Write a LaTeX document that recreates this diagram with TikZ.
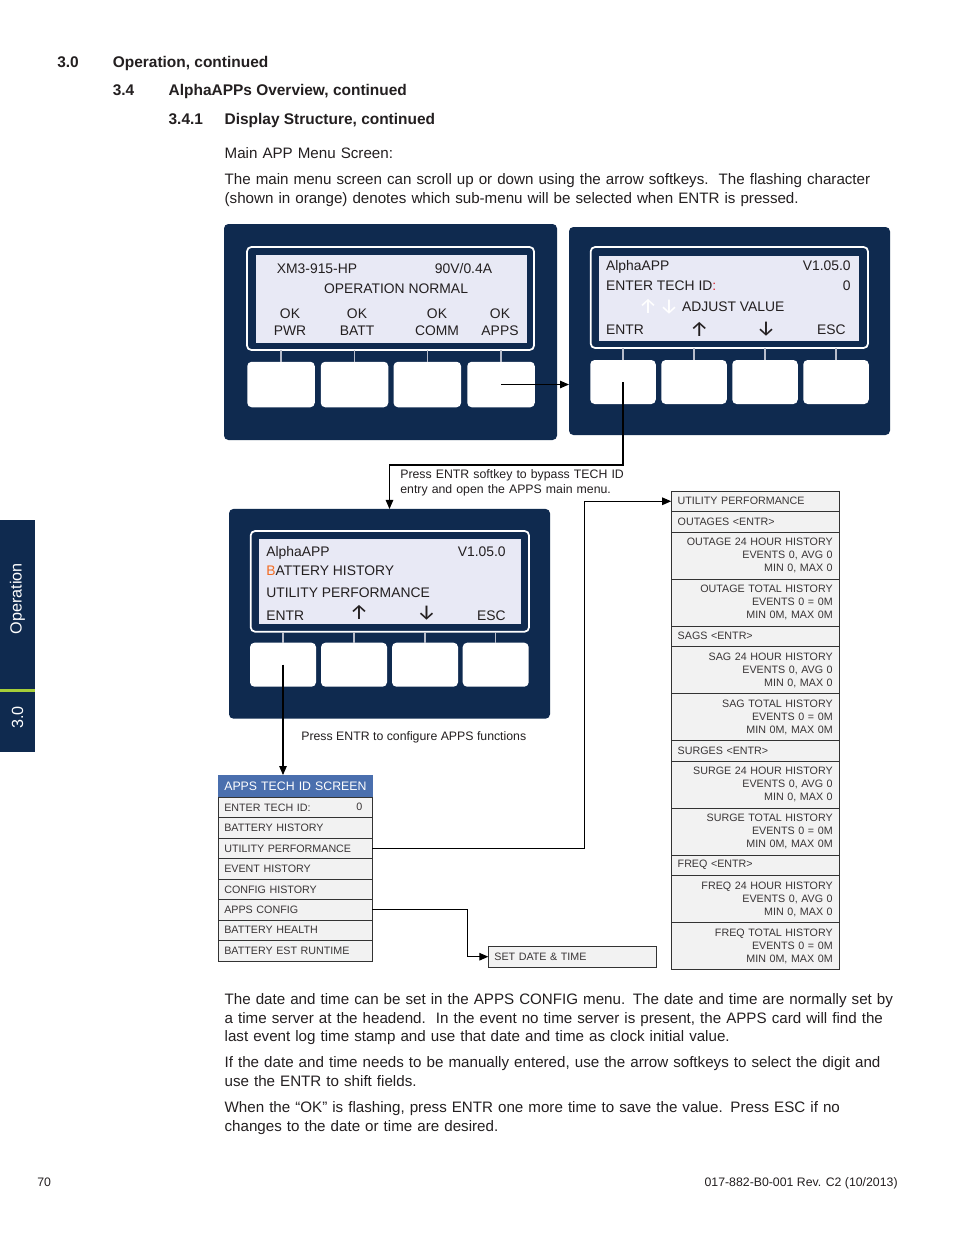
\documentclass[tikz,border=0pt]{standalone}
\usepackage{fontspec}
\setmainfont{Liberation Sans}
\newfontfamily\arrowfont{Fira Sans}
\usetikzlibrary{positioning,arrows.meta}

\definecolor{navy}{HTML}{0F2A4F}
\definecolor{lcd}{HTML}{E8E9F5}
\definecolor{tickc}{HTML}{B8BDCB}
\definecolor{hdrblue}{HTML}{4A6FAE}
\definecolor{rowfill}{HTML}{F2F2F2}
\definecolor{rowline}{HTML}{333333}
\definecolor{ink}{HTML}{231F20}
\definecolor{flash}{HTML}{F26B21}
\definecolor{idred}{HTML}{D9232E}
\definecolor{tabgreen}{HTML}{A6CE39}

\newlength\pxl
\setlength\pxl{0.02cm}

\tikzset{
  panel/.style={fill=navy,rounded corners=2.5pt,inner sep=0pt,outer sep=0pt},
  lcdframe/.style={draw=white,line width=1pt,rounded corners=2.5pt},
  softkey/.style={fill=white,rounded corners=2.5pt,inner sep=0pt,outer sep=0pt,minimum width=66*\pxl,minimum height=44*\pxl},
  tickline/.style={draw=tickc,line width=0.6pt},
  scr/.style={text=ink,inner sep=0pt,font=\fontsize{7.9}{9}\selectfont},
  keyarr/.style={scr,font=\arrowfont\fontsize{12}{12}\selectfont},
  body/.style={text=ink,inner sep=0pt,anchor=base west,text width=690*\pxl,align=left,font=\fontsize{8.62}{10.6}\selectfont},
  hd/.style={text=ink,inner sep=0pt,anchor=base west,font=\fontsize{8.8}{10.6}\selectfont\bfseries},
  note/.style={text=ink,inner sep=0pt,anchor=base west,font=\fontsize{7}{8.5}\selectfont},
  tab/.style={text=white,inner sep=0pt,font=\fontsize{9.2}{10}\selectfont},
  conn/.style={draw=black,line width=0.6pt,-{Triangle[length=1.8mm,width=1.5mm]}},
  lrow/.style={draw=rowline,fill=rowfill,line width=0.5pt,outer sep=0pt,inner xsep=6*\pxl,inner ysep=0pt,
    minimum height=20.45*\pxl,text width=142*\pxl,align=left,text=ink!90,font=\fontsize{6.1}{7}\selectfont},
  lhdr/.style={lrow,fill=hdrblue,draw=hdrblue,text=white,minimum height=22.3*\pxl,font=\fontsize{7}{8}\selectfont},
  urow/.style={draw=rowline,fill=rowfill,line width=0.5pt,outer sep=0pt,inner xsep=6.5*\pxl,inner ysep=0pt,
    minimum height=20.5*\pxl,text width=155*\pxl,align=left,text=ink!90,font=\fontsize{6.1}{7.4}\selectfont},
  hrow/.style={urow,align=right,minimum height=47*\pxl}
}

\begin{document}
\begin{tikzpicture}[x=0.02cm,y=-0.02cm]
  \useasboundingbox (0,0) rectangle (954,1235);
  \fill[white] (0,0) rectangle (954,1235);
  % side tab
  \fill[navy] (0,520) rectangle (35,752); \fill[tabgreen] (0,689) rectangle (35,691.5);
  \node[tab,rotate=90] (tabname) at (17.5,598.5) {Operation}; \node[tab,rotate=90] (tabnum) at (17.5,717.5) {3.0};

  % headings and text
  \node[hd] (h1) at (57,67.5) {3.0}; \node[hd] (h1t) at (112.5,67.5) {Operation, continued};
  \node[hd] (h2) at (112.5,95.5) {3.4}; \node[hd] (h2t) at (168.3,95.5) {AlphaAPPs Overview, continued};
  \node[hd] (h3) at (168.3,124.5) {3.4.1}; \node[hd] (h3t) at (224.3,124.5) {Display Structure, continued};
  \node[body] (intro) at (224.3,158.5) {Main APP Menu Screen:};
  \node[body] (para1) at (224.3,184.5) {The main menu screen can scroll up or down using the arrow softkeys.\ \ The flashing character\\
    (shown in orange) denotes which sub-menu will be selected when ENTR is pressed.};

  % panel 1: main screen
  \node[panel,minimum width=333*\pxl,minimum height=216*\pxl] (P1) at (390.5,332) {};
  \draw[lcdframe] (247,247) rectangle (534,350); \fill[lcd] (255.5,254.5) rectangle (526.5,343);
  \foreach \k/\x in {1/281,2/354.5,3/427.3,4/501}{
    \node[softkey,minimum width=67.5*\pxl,minimum height=45.5*\pxl] (lb\k) at (\x,384.5) {};
    \draw[tickline] (lb\k.north) -- ++(0,-12);}
  \node[scr,anchor=base] (model) at (317,273) {XM3-915-HP}; \node[scr,anchor=base] (rating) at (463.5,273) {90V/0.4A};
  \node[scr,anchor=base] (status) at (396,293) {OPERATION NORMAL};
  \foreach \k/\x/\t in {1/290/PWR,2/357/BATT,3/437/COMM,4/500/APPS}{
    \node[scr,anchor=base] (ok\k) at (\x,318) {OK}; \node[scr,anchor=base] (sub\k) at (\x,335) {\t};}

  % panel 2: tech id
  \node[panel,minimum width=321*\pxl,minimum height=208*\pxl] (P2) at (729.5,331) {};
  \draw[lcdframe] (590.7,247) rectangle (868,348); \fill[lcd] (599,256) rectangle (859,341);
  \foreach \k/\x in {1/623,2/694,3/765,4/836}{
    \node[softkey,minimum width=65.5*\pxl] (rb\k) at (\x,382) {};
    \draw[tickline] (rb\k.north) -- ++(0,-12);}
  \node[scr,anchor=base west] (rapp) at (605.7,270) {AlphaAPP}; \node[scr,anchor=base east] (rver) at (851,270) {V1.05.0};
  \node[scr,anchor=base west] (rid) at (605.7,290) {ENTER TECH ID\textcolor{idred}{:}}; \node[scr,anchor=base east] (rzero) at (851,290) {0};
  \node[keyarr,text=white] (fup) at (648,306.7) {↑}; \node[keyarr,text=white] (fdn) at (669,306.7) {↓};
  \node[scr,anchor=base west] (radj) at (681.7,311.7) {ADJUST VALUE};
  \node[scr,anchor=base west] (rentr) at (605.7,334.3) {ENTR}; \node[scr,anchor=base east] (resc) at (846,334.3) {ESC};
  \node[keyarr] (rup) at (699.3,329.3) {↑}; \node[keyarr] (rdn) at (766,329.3) {↓};

  % panel 3: apps menu
  \node[panel,minimum width=321*\pxl,minimum height=209.7*\pxl] (P3) at (389.5,613.8) {};
  \draw[lcdframe] (250.7,531) rectangle (529,631.7); \fill[lcd] (259,539) rectangle (521,623.7);
  \foreach \k/\x in {1/283,2/354,3/425,4/495.7}{
    \node[softkey] (mb\k) at (\x,664.7) {};
    \draw[tickline] (mb\k.north) -- ++(0,-11);}
  \node[scr,anchor=base west] (mapp) at (266,556) {AlphaAPP}; \node[scr,anchor=base east] (mver) at (506,556) {V1.05.0};
  \node[scr,anchor=base west] (mbat) at (266,575) {\textcolor{flash}{B}ATTERY HISTORY};
  \node[scr,anchor=base west] (mutil) at (266,597.3) {UTILITY PERFORMANCE};
  \node[scr,anchor=base west] (mentr) at (266,620) {ENTR}; \node[scr,anchor=base east] (mesc) at (506,620) {ESC};
  \node[keyarr] (mup) at (359,612.7) {↑}; \node[keyarr] (mdn) at (426.7,612.7) {↓};

  \node[note,text width=240*\pxl,align=left] (bypass) at (400,478.5) {Press ENTR softkey to bypass TECH ID\\entry and open the APPS main menu.};
  \node[note] (cfg) at (301,740.5) {Press ENTR to configure APPS functions};

  % apps tech id list
  \node[lhdr] (r0) at (295.3,786.2) {\mbox{APPS TECH ID SCREEN}};
  \foreach \t [count=\i, remember=\i as \j (initially 0)] in {ENTER TECH ID:,BATTERY HISTORY,UTILITY PERFORMANCE,
      EVENT HISTORY,CONFIG HISTORY,APPS CONFIG,BATTERY HEALTH,BATTERY EST RUNTIME}
    \node[lrow,below=0pt of r\j] (r\i) {\t};
  \node[lrow,draw=none,fill=none,anchor=base east,text width=,inner sep=0pt,minimum height=0pt] (idzero) at ([xshift=-10*\pxl,yshift=-3*\pxl]r1.east) {0};
  \node[lrow,text width=155.7*\pxl,minimum height=21.3*\pxl] (sd) at (572.2,956.7) {SET DATE \& TIME};

  % utility performance column
  \node[urow,anchor=north] (u0) at (755.2,491) {UTILITY PERFORMANCE};
  \node[urow,below=0pt of u0] (u1) {OUTAGES <ENTR>};
  \node[hrow,below=0pt of u1] (u2) {OUTAGE 24 HOUR HISTORY\\EVENTS 0, AVG 0\\MIN 0, MAX 0};
  \node[hrow,below=0pt of u2] (u3) {OUTAGE TOTAL HISTORY\\EVENTS 0 = 0M\\MIN 0M, MAX 0M};
  \node[urow,below=0pt of u3] (u4) {SAGS <ENTR>};
  \node[hrow,below=0pt of u4] (u5) {SAG 24 HOUR HISTORY\\EVENTS 0, AVG 0\\MIN 0, MAX 0};
  \node[hrow,below=0pt of u5] (u6) {SAG TOTAL HISTORY\\EVENTS 0 = 0M\\MIN 0M, MAX 0M};
  \node[urow,below=0pt of u6] (u7) {SURGES <ENTR>};
  \node[hrow,below=0pt of u7] (u8) {SURGE 24 HOUR HISTORY\\EVENTS 0, AVG 0\\MIN 0, MAX 0};
  \node[hrow,below=0pt of u8] (u9) {SURGE TOTAL HISTORY\\EVENTS 0 = 0M\\MIN 0M, MAX 0M};
  \node[urow,below=0pt of u9] (u10) {FREQ <ENTR>};
  \node[hrow,below=0pt of u10] (u11) {FREQ 24 HOUR HISTORY\\EVENTS 0, AVG 0\\MIN 0, MAX 0};
  \node[hrow,below=0pt of u11] (u12) {FREQ TOTAL HISTORY\\EVENTS 0 = 0M\\MIN 0M, MAX 0M};

  % connectors
  \draw[conn] (lb4.center) -- (lb4.center -| P2.west);
  \draw[conn] (rb1.center) -- ++(0,83) -| (P3.north);
  \draw[conn] (mb1.center) -- (mb1.center |- r0.north);
  \draw[conn] (r3.east) -- ++(212,0) |- (u0.west);
  \draw[conn] (r6.east) -- ++(95,0) |- (sd.west);

  % bottom text
  \node[body] (para2) at (224.3,1004.5) {The date and time can be set in the APPS CONFIG menu. The date and time are normally set by\\
    a time server at the headend.\ \ In the event no time server is present, the APPS card will find the\\
    last event log time stamp and use that date and time as clock initial value.};
  \node[body] (para3) at (224.3,1067.5) {If the date and time needs to be manually entered, use the arrow softkeys to select the digit and\\
    use the ENTR to shift fields.};
  \node[body] (para4) at (224.3,1112.5) {When the “OK” is flashing, press ENTR one more time to save the value. Press ESC if no\\
    changes to the date or time are desired.};
  \node[note] (pageno) at (37,1186.5) {70};
  \node[note,anchor=base east] (docno) at (898,1186.5) {017-882-B0-001 Rev. C2 (10/2013)};
\end{tikzpicture}
\end{document}
